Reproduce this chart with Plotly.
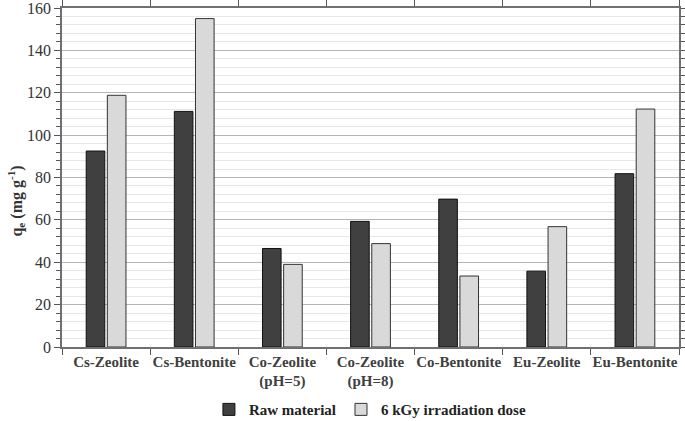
import plotly.graph_objects as go

categories = ["Cs-Zeolite", "Cs-Bentonite", "Co-Zeolite<br>(pH=5)", "Co-Zeolite<br>(pH=8)",
              "Co-Bentonite", "Eu-Zeolite", "Eu-Bentonite"]
raw_material = [92.5, 111.2, 46.5, 59.3, 69.8, 35.8, 81.8]
irradiated = [118.8, 155.0, 39.0, 48.8, 33.5, 56.8, 112.3]
y_ticks = [0, 20, 40, 60, 80, 100, 120, 140, 160]

font_family = "Liberation Serif, Times New Roman, serif"

fig = go.Figure()
fig.add_trace(go.Bar(x=categories, y=raw_material, name="<b>Raw material</b>",
                     marker=dict(color="#404040", line=dict(color="#111111", width=1))))
fig.add_trace(go.Bar(x=categories, y=irradiated, name="<b>6 kGy irradiation dose</b>",
                     marker=dict(color="#d9d9d9", line=dict(color="#333333", width=1))))

fig.update_layout(
    width=685, height=421,
    margin=dict(l=62, r=6, t=8, b=74, autoexpand=False),
    paper_bgcolor="white", plot_bgcolor="white",
    barmode="group", bargap=0.52, bargroupgap=0.12,
    font=dict(family=font_family, size=15, color="#404040"),
    showlegend=True,
    legend=dict(orientation="h", x=0.305, xanchor="left", xref="container",
                y=0.027, yanchor="middle", yref="container",
                font=dict(family=font_family, size=15, color="#222222"),
                itemwidth=30, traceorder="normal"),
)
fig.update_xaxes(
    automargin=False, tickangle=0, ticklabeloverflow="allow",
    showline=True, linecolor="#707070", linewidth=1.5, mirror="ticks",
    ticks="outside", tickson="boundaries", ticklen=6, tickcolor="#555555",
    tickfont=dict(family=font_family, size=15, color="#404040"),
    tickprefix="<b>", ticksuffix="</b>",
    showgrid=False,
)
fig.update_yaxes(
    automargin=False, ticklabeloverflow="allow",
    range=[0, 160], tickvals=y_ticks,
    showline=True, linecolor="#707070", linewidth=1.5, mirror="ticks",
    ticks="outside", ticklen=6, tickcolor="#555555",
    tickfont=dict(family=font_family, size=16, color="#333333"),
    tickprefix="<b>", ticksuffix="</b>",
    showgrid=True, gridcolor="#b5b5b5", gridwidth=1,
    minor=dict(dtick=4, showgrid=True, gridcolor="#e6e6e6", gridwidth=1,
               ticks="outside", ticklen=4, tickcolor="#555555"),
    zeroline=False,
)
fig.add_annotation(
    text="<b>q<sub>e</sub> (mg g<sup>-1</sup>)</b>",
    xref="paper", yref="paper", x=-0.074, y=0.43, xanchor="center", yanchor="middle",
    textangle=-90, showarrow=False,
    font=dict(family=font_family, size=16, color="#333333"),
)

fig.write_html("out.html", post_script="document.body.style.margin='0';",
               config={"displayModeBar": False})
